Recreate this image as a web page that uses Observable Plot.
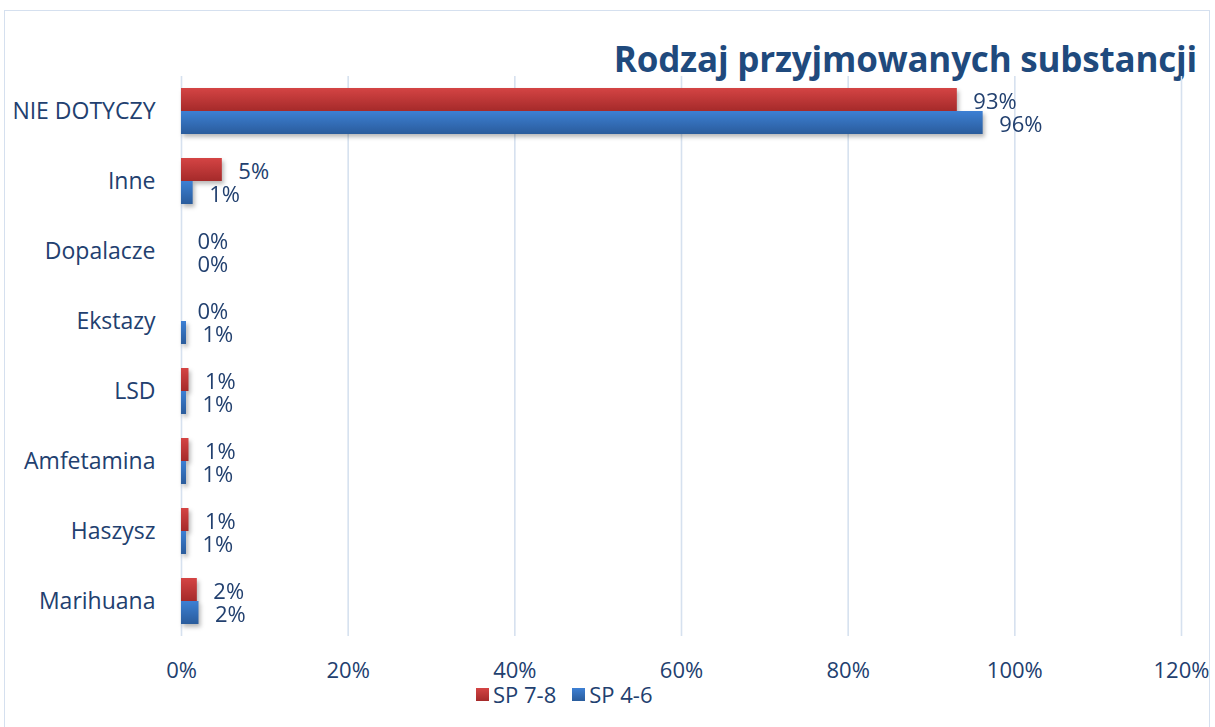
<!DOCTYPE html>
<html>
<head>
<meta charset="utf-8">
<script src="https://cdn.jsdelivr.net/npm/d3@7"></script>
<script src="https://cdn.jsdelivr.net/npm/@observablehq/plot@0.6"></script>
<style>
  html, body { margin: 0; padding: 0; background: #fff; }
  #wrap { position: relative; width: 1215px; height: 727px; overflow: hidden; font-family: "Open Sans", sans-serif; }
  #border { position: absolute; left: 4px; top: 10px; width: 1206px; height: 740px; border: 1.5px solid #d5e0ef; box-sizing: border-box; }
  #title { position: absolute; right: 18px; top: 41px; font-size: 35px; line-height: 35px; font-weight: 700; color: #1f4a7d; white-space: nowrap; letter-spacing: -0.2px; }
  #chart { position: absolute; left: 0; top: 60px; }
  #legend { position: absolute; left: 476px; top: 683px; display: flex; align-items: center; font-size: 22px; line-height: 22px; color: #22406f; white-space: nowrap; }
  .sw { display: inline-block; width: 13px; height: 13px; margin-right: 4px; }
  .item { display: flex; align-items: center; margin-right: 16px; }
</style>
</head>
<body>
<div id="wrap">
  <div id="border"></div>
  <div id="title">Rodzaj przyjmowanych substancji</div>
  <div id="chart"></div>
  <div id="legend"></div>
</div>
<script>
const categories = ["NIE DOTYCZY", "Inne", "Dopalacze", "Ekstazy", "LSD", "Amfetamina", "Haszysz", "Marihuana"];
const series = ["SP 7-8", "SP 4-6"];
const sp78 = [93.1, 4.9, 0, 0, 0.9, 0.9, 0.9, 1.9];
const sp46 = [96.2, 1.4, 0, 0.6, 0.6, 0.6, 0.6, 2.1];
const xTicks = [0, 20, 40, 60, 80, 100, 120];
const seriesColors = {"SP 7-8": ["#d44444", "#a52a2a"], "SP 4-6": ["#3d80d4", "#2a5c9c"]};

const rows = [];
categories.forEach((c, i) => {
  rows.push({category: c, series: series[0], value: sp78[i]});
  rows.push({category: c, series: series[1], value: sp46[i]});
});

const textColor = "#22406f";
const fill = d => d.series === "SP 7-8" ? "url(#gradRed)" : "url(#gradBlue)";

const plot = Plot.plot({
  width: 1215,
  height: 625,
  marginTop: 15,
  marginBottom: 49,
  marginLeft: 181,
  marginRight: 34,
  style: {fontFamily: "'Open Sans', sans-serif", fontSize: "22px", color: textColor, background: "transparent"},
  x: {domain: [0, 120], label: null},
  y: {domain: series, axis: null, paddingInner: 0, paddingOuter: 0.49},
  fy: {domain: categories, padding: 0, label: null},
  marks: [
    Plot.gridX(xTicks, {stroke: "#d6e1ef", strokeOpacity: 1, strokeWidth: 1.6}),
    Plot.barX(rows, {x: "value", y: "series", fy: "category", fill: fill}),
    Plot.text(rows, {x: "value", y: "series", fy: "category", text: d => Math.round(d.value) + "%",
      textAnchor: "start", dx: 16, dy: 2, fill: textColor, fontSize: 22}),
    Plot.axisX({ticks: xTicks, tickFormat: d => d + "%", tickSize: 0, tickPadding: 26, fontSize: 22, label: null, fill: textColor}),
    Plot.axisFy({anchor: "left", tickSize: 0, tickPadding: 26, fontSize: 23, label: null, fill: textColor})
  ]
});

const svg = d3.select(plot);
const defs = svg.insert("defs", ":first-child");
[["gradRed", seriesColors["SP 7-8"]], ["gradBlue", seriesColors["SP 4-6"]]].forEach(([id, [c0, c1]]) => {
  const g = defs.append("linearGradient").attr("id", id).attr("x1", 0).attr("y1", 0).attr("x2", 0).attr("y2", 1);
  g.append("stop").attr("offset", "0%").attr("stop-color", c0);
  g.append("stop").attr("offset", "100%").attr("stop-color", c1);
});
svg.selectAll("g[aria-label='bar']").style("filter", "drop-shadow(2px 3px 2px rgba(0,0,0,0.28))");

document.getElementById("chart").appendChild(plot);

const legend = d3.select("#legend");
series.forEach(s => {
  const it = legend.append("span").attr("class", "item");
  it.append("span").attr("class", "sw")
    .style("background", `linear-gradient(${seriesColors[s][0]}, ${seriesColors[s][1]})`);
  it.append("span").text(s);
});
</script>
</body>
</html>
